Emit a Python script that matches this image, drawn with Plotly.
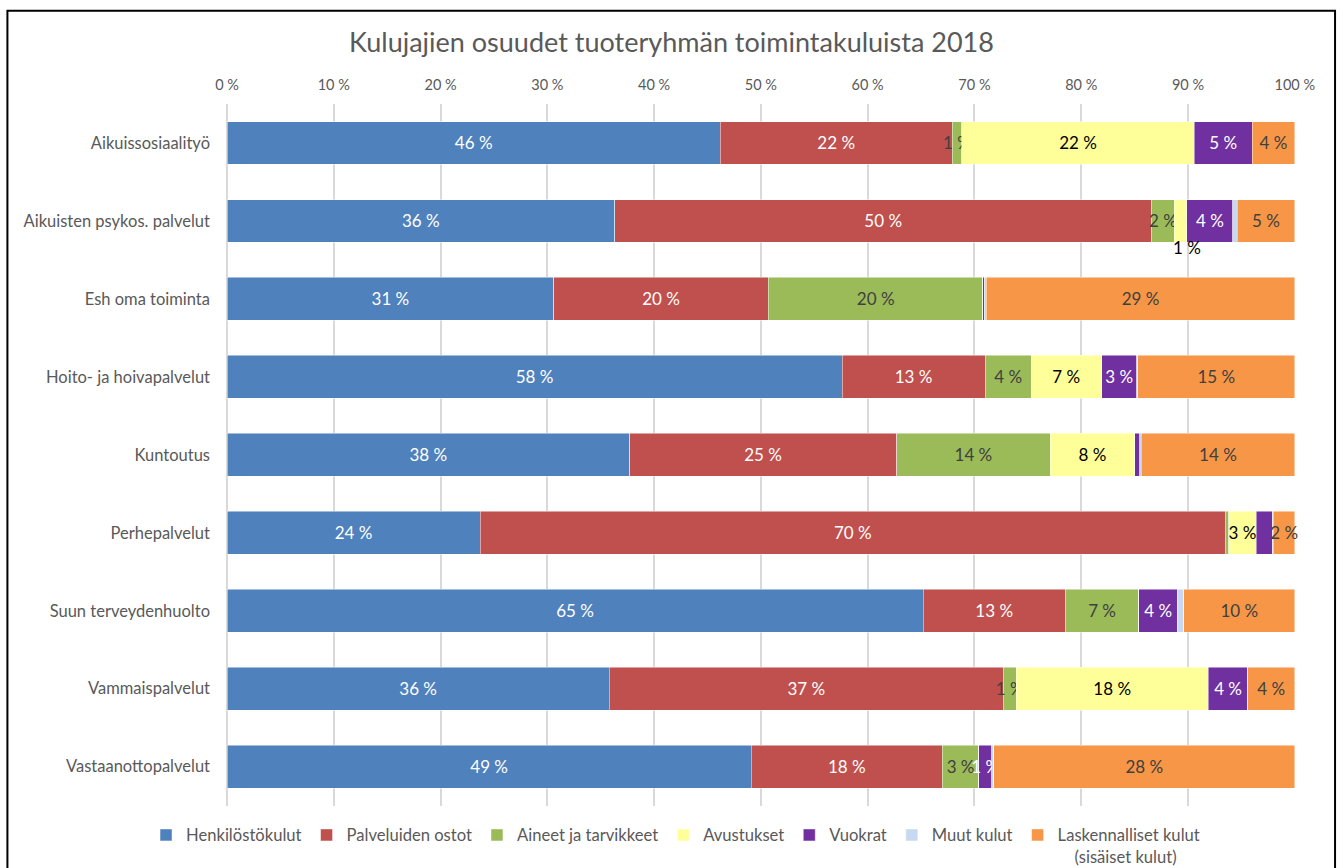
import plotly.graph_objects as go

categories = ["Aikuissosiaalityö", "Aikuisten psykos. palvelut", "Esh oma toiminta",
              "Hoito- ja hoivapalvelut", "Kuntoutus", "Perhepalvelut",
              "Suun terveydenhuolto", "Vammaispalvelut", "Vastaanottopalvelut"]

series_names = ["Henkilöstökulut", "Palveluiden ostot", "Aineet ja tarvikkeet",
                "Avustukset", "Vuokrat", "Muut kulut",
                "Laskennalliset kulut<br>\u00a0\u00a0\u00a0\u00a0(sisäiset kulut)"]

henkilosto = [46.2, 36.3, 30.6, 57.6, 37.7, 23.7, 65.2, 35.8, 49.1]
palvelut = [21.7, 50.3, 20.1, 13.4, 25.0, 69.8, 13.3, 36.9, 17.9]
aineet = [0.9, 2.1, 20.1, 4.3, 14.4, 0.3, 6.9, 1.2, 3.4]
avustukset = [21.8, 1.2, 0.0, 6.6, 7.9, 2.6, 0.0, 18.0, 0.0]
vuokrat = [5.4, 4.3, 0.1, 3.3, 0.5, 1.5, 3.6, 3.7, 1.2]
muut = [0.0, 0.4, 0.2, 0.1, 0.1, 0.1, 0.6, 0.0, 0.2]
laskennalliset = [4.0, 5.4, 28.9, 14.7, 14.4, 2.0, 10.4, 4.4, 28.2]

# which data labels are shown inside bars
show_henk = [1, 1, 1, 1, 1, 1, 1, 1, 1]
show_palv = [1, 1, 1, 1, 1, 1, 1, 1, 1]
show_aine = [1, 1, 1, 1, 1, 0, 1, 1, 1]
show_avus = [1, 0, 0, 1, 1, 1, 0, 1, 0]
show_vuok = [1, 1, 0, 1, 0, 0, 1, 1, 1]
show_muut = [0, 0, 0, 0, 0, 0, 0, 0, 0]
show_lask = [1, 1, 1, 1, 1, 1, 1, 1, 1]

colors = ["#4F81BD", "#C0504D", "#9BBB59", "#FFFF99", "#7030A0", "#C6D9F1", "#F79646"]
text_colors = ["#FFFFFF", "#FFFFFF", "#404040", "#000000", "#FFFFFF", "#404040", "#404040"]

values = [henkilosto, palvelut, aineet, avustukset, vuokrat, muut, laskennalliset]
shows = [show_henk, show_palv, show_aine, show_avus, show_vuok, show_muut, show_lask]

FONT = "Lato, 'Open Sans', sans-serif"

fig = go.Figure()
for name, vals, show, col, tcol in zip(series_names, values, shows, colors, text_colors):
    texts = [f"{v:.0f} %" if s else "" for v, s in zip(vals, show)]
    fig.add_trace(go.Bar(
        y=categories, x=vals, name=name, orientation="h",
        marker=dict(color=col, line=dict(color="rgba(255,255,255,0.6)", width=0.8)),
        text=texts, textposition="inside", insidetextanchor="middle",
        textangle=0, constraintext="none", cliponaxis=False,
        insidetextfont=dict(family=FONT, size=17, color=tcol),
        hoverinfo="x+y+name",
    ))

# outside label for the small "Avustukset" segment of the 2nd row
cum_end = henkilosto[1] + palvelut[1] + aineet[1] + avustukset[1]
fig.add_annotation(x=cum_end, y=categories[1], text=f"{avustukset[1]:.0f} %",
                   showarrow=False, yshift=-27,
                   font=dict(family=FONT, size=17, color="#000000"))

# chart border
fig.add_shape(type="rect", xref="paper", yref="paper",
              x0=-0.2056, x1=1.0375, y0=-0.1, y1=1.133,
              line=dict(color="#000000", width=2), fillcolor="rgba(0,0,0,0)", layer="above")

fig.update_layout(
    barmode="stack",
    bargap=0.45,
    width=1343, height=868,
    margin=dict(l=227, r=48, t=104, b=57),
    paper_bgcolor="white", plot_bgcolor="white",
    font=dict(family=FONT, color="#595959"),
    title=dict(text="Kulujajien osuudet tuoteryhmän toimintakuluista 2018",
               x=0.5, xref="container", xanchor="center",
               y=1 - 43 / 868, yref="container", yanchor="middle",
               font=dict(family=FONT, size=27, color="#595959")),
    xaxis=dict(side="top", range=[0, 100.02], tickvals=list(range(0, 101, 10)),
               ticktext=[f"{t} %" for t in range(0, 101, 10)],
               showgrid=True, gridcolor="#D9D9D9", gridwidth=1.5,
               zeroline=True, zerolinecolor="#D9D9D9", zerolinewidth=1.5,
               showline=False, ticks="", ticklabelstandoff=10,
               tickfont=dict(family=FONT, size=14.5, color="#595959"),
               fixedrange=True),
    yaxis=dict(autorange="reversed", showgrid=False, zeroline=False, showline=False,
               ticks="", ticklabelstandoff=16,
               tickfont=dict(family=FONT, size=16.5, color="#595959")),
    legend=dict(orientation="h", x=0.503, xref="container", xanchor="center",
                y=0.058, yref="container", yanchor="top",
                valign="top", traceorder="normal", itemwidth=30,
                font=dict(family=FONT, size=16.6, color="#595959"),
                itemclick=False, itemdoubleclick=False),
    showlegend=True,
)

fig.write_html("out.html", config={"displayModeBar": False},
               post_script="document.body.style.margin='0px';")
